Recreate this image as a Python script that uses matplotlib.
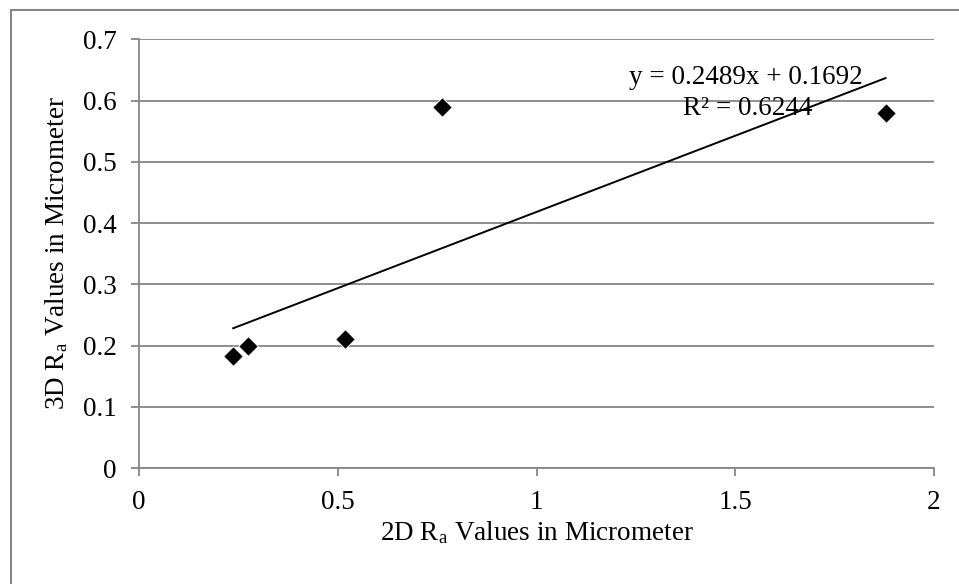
import matplotlib
matplotlib.use("Agg")
import matplotlib.pyplot as plt
from matplotlib.patches import Rectangle
import numpy as np

plt.rcParams['font.family'] = ['Liberation Serif', 'DejaVu Serif']
plt.rcParams['mathtext.fontset'] = 'custom'
plt.rcParams['mathtext.rm'] = 'Liberation Serif'
plt.rcParams['mathtext.it'] = 'Liberation Serif:italic'

# Surface roughness: 2D vs 3D Ra measurements (micrometer)
ra_2d = [0.237, 0.273, 0.518, 0.763, 1.878]
ra_3d = [0.183, 0.199, 0.210, 0.589, 0.579]

# Linear trendline
slope = 0.2489
intercept = 0.1692
r_squared = 0.6244

x_ticks = [0, 0.5, 1, 1.5, 2]
x_tick_labels = ['0', '0.5', '1', '1.5', '2']
y_ticks = [0, 0.1, 0.2, 0.3, 0.4, 0.5, 0.6, 0.7]
y_tick_labels = ['0', '0.1', '0.2', '0.3', '0.4', '0.5', '0.6', '0.7']

W, H = 959, 584
FS = 19.5
fig = plt.figure(figsize=(W / 100, H / 100), dpi=100)
ax = fig.add_axes([139 / W, 1 - 468 / H, (934 - 139) / W, (468 - 39.3) / H])

grid_c = '#868686'
ax.set_xlim(0, 2)
ax.set_ylim(0, 0.7)
ax.set_yticks(y_ticks)
ax.set_yticklabels(y_tick_labels)
ax.set_xticks(x_ticks)
ax.set_xticklabels(x_tick_labels)
ax.grid(axis='y', color=grid_c, linewidth=1.3)
ax.set_axisbelow(True)
for s in ['top', 'right']:
    ax.spines[s].set_visible(False)
for s in ['left', 'bottom']:
    ax.spines[s].set_color(grid_c)
    ax.spines[s].set_linewidth(1.3)
ax.tick_params(axis='both', direction='out', length=6, width=1.3, color=grid_c,
               labelsize=FS, labelcolor='black')
ax.tick_params(axis='y', pad=10)
ax.tick_params(axis='x', pad=10)

ax.scatter(ra_2d, ra_3d, marker='D', s=100, color='black', zorder=3,
           edgecolors='white', linewidths=0.7)

xl = np.array([min(ra_2d), max(ra_2d)])
ax.plot(xl, slope * xl + intercept, color='black', linewidth=1.4, zorder=2)

ax.text(1.526, 0.638, f'y = {slope:.4f}x + {intercept:.4f}', ha='center', va='center',
        fontsize=FS, zorder=1)
ax.text(1.531, 0.587, f'R² = {r_squared:.4f}', ha='center', va='center', fontsize=FS,
        zorder=1)

fig.text(537 / W, 1 - 540 / H, r'2D R$_\mathrm{a}$ Values in Micrometer',
         ha='center', va='baseline', fontsize=FS)
fig.text(57 / W, 1 - 253 / H, r'3D R$_\mathrm{a}$ Values in Micrometer',
         ha='center', va='center', rotation=90, fontsize=FS)

fig.patches.append(Rectangle((11 / W, -0.05), 1.2, 1 - 10 / H + 0.05,
                             transform=fig.transFigure, fill=False,
                             edgecolor=grid_c, linewidth=1.5))

fig.savefig('out.png', dpi=100)
